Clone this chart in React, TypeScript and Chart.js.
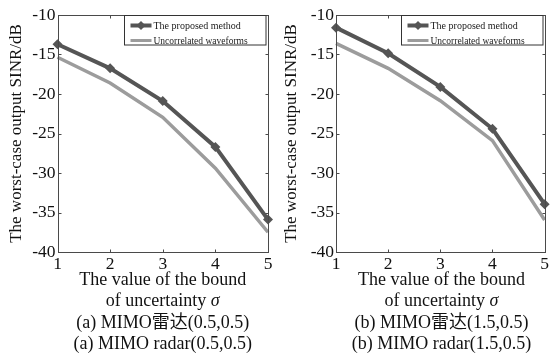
import React, { useEffect, useRef } from "react";
import { Chart, registerables } from "chart.js";

Chart.register(...registerables);

const xValues = [1, 2, 3, 4, 5];
const yTicks = [-40, -35, -30, -25, -20, -15, -10];
const seriesNames = ["The proposed method", "Uncorrelated waveforms"];

const leftProposed = [-13.7, -16.75, -20.9, -26.7, -35.9];
const leftUncorrelated = [-15.35, -18.6, -22.95, -29.4, -37.5];
const rightProposed = [-11.6, -14.85, -19.1, -24.4, -33.95];
const rightUncorrelated = [-13.6, -16.75, -20.85, -25.9, -35.95];

const yTitle = "The worst-case output SINR/dB";
const xTitleLine1 = "The value of the bound";
const xTitleLine2 = "of uncertainty ";
const leftCaptionCn = "(a) MIMO雷达(0.5,0.5)";
const leftCaptionEn = "(a) MIMO radar(0.5,0.5)";
const rightCaptionCn = "(b) MIMO雷达(1.5,0.5)";
const rightCaptionEn = "(b) MIMO radar(1.5,0.5)";

const SERIF = '"Liberation Serif", "Times New Roman", "Noto Sans CJK SC", serif';
const DARK = "#555555";
const LIGHT = "#9c9c9c";
const AXIS = "#4a4a4a";
const CANVAS_H = 280;
const AREA_TOP = 15;
const AREA_BOTTOM = 252;

type PanelProps = {
  left: number;
  width: number;
  areaLeft: number;
  areaRight: number;
  proposed: number[];
  uncorrelated: number[];
  captionCn: string;
  captionEn: string;
};

const framePlugin = {
  id: "frameLegend",
  afterDatasetsDraw(chart: any) {
    const { ctx, chartArea } = chart;
    const xs = chart.scales.x;
    const ys = chart.scales.y;
    const l = Math.round(chartArea.left) + 0.5;
    const r = Math.round(chartArea.right) + 0.5;
    const t = Math.round(chartArea.top) + 0.5;
    const b = Math.round(chartArea.bottom) + 0.5;
    ctx.save();
    ctx.strokeStyle = AXIS;
    ctx.lineWidth = 1;
    ctx.strokeRect(l, t, r - l, b - t);
    ctx.beginPath();
    xValues.forEach((v) => {
      const px = Math.round(xs.getPixelForValue(v)) + 0.5;
      ctx.moveTo(px, b);
      ctx.lineTo(px, b - 3);
      ctx.moveTo(px, t);
      ctx.lineTo(px, t + 3);
    });
    yTicks.forEach((v) => {
      const py = Math.round(ys.getPixelForValue(v)) + 0.5;
      ctx.moveTo(l, py);
      ctx.lineTo(l + 3, py);
      ctx.moveTo(r, py);
      ctx.lineTo(r - 3, py);
    });
    ctx.stroke();

    // legend box
    const w = 141.5;
    const h = 29.5;
    const x0 = Math.round(chartArea.right - 2.5 - w) + 0.5;
    const y0 = t;
    ctx.fillStyle = "#ffffff";
    ctx.fillRect(x0, y0, w, h);
    ctx.strokeStyle = "#333333";
    ctx.strokeRect(x0, y0, w, h);

    const rows = [
      { y: y0 + 10, color: DARK, lw: 4, marker: true, size: 10, label: chart.data.datasets[0].label },
      { y: y0 + 25, color: LIGHT, lw: 3, marker: false, size: 9.5, label: chart.data.datasets[1].label },
    ];
    rows.forEach((row) => {
      ctx.strokeStyle = row.color;
      ctx.lineWidth = row.lw;
      ctx.beginPath();
      ctx.moveTo(x0 + 6, row.y);
      ctx.lineTo(x0 + 27, row.y);
      ctx.stroke();
      if (row.marker) {
        const cx = x0 + 16.5;
        ctx.fillStyle = row.color;
        ctx.beginPath();
        ctx.moveTo(cx, row.y - 4.5);
        ctx.lineTo(cx + 4.5, row.y);
        ctx.lineTo(cx, row.y + 4.5);
        ctx.lineTo(cx - 4.5, row.y);
        ctx.closePath();
        ctx.fill();
      }
      ctx.fillStyle = "#1a1a1a";
      ctx.font = `${row.size}px ${SERIF}`;
      ctx.textAlign = "left";
      ctx.textBaseline = "middle";
      ctx.fillText(row.label, x0 + 29, row.y + 0.5);
    });
    ctx.restore();
  },
};

function Panel(props: PanelProps) {
  const ref = useRef<HTMLCanvasElement | null>(null);
  useEffect(() => {
    if (!ref.current) return;
    const chart = new Chart(ref.current, {
      type: "line",
      data: {
        datasets: [
          {
            label: seriesNames[0],
            data: xValues.map((x, i) => ({ x, y: props.proposed[i] })),
            borderColor: DARK,
            backgroundColor: DARK,
            borderWidth: 4,
            pointStyle: "rectRot",
            pointRadius: 5,
            pointBackgroundColor: DARK,
            pointBorderColor: DARK,
            pointBorderWidth: 0,
            clip: false as any,
          },
          {
            label: seriesNames[1],
            data: xValues.map((x, i) => ({ x, y: props.uncorrelated[i] })),
            borderColor: LIGHT,
            backgroundColor: LIGHT,
            borderWidth: 3.5,
            pointRadius: 0,
            clip: false as any,
          },
        ],
      },
      options: {
        animation: false,
        responsive: false,
        maintainAspectRatio: false,
        events: [],
        layout: {
          padding: { left: 0, top: AREA_TOP, right: props.width - props.areaRight, bottom: 0 },
        },
        plugins: { legend: { display: false }, tooltip: { enabled: false }, title: { display: false } },
        scales: {
          x: {
            type: "linear",
            min: 1,
            max: 5,
            grid: { display: false, drawTicks: false },
            border: { display: false },
            ticks: {
              stepSize: 1,
              padding: 2,
              color: "#111111",
              font: { family: SERIF, size: 17.5 },
              maxRotation: 0,
            },
            afterFit: (scale: any) => {
              scale.height = CANVAS_H - AREA_BOTTOM;
            },
          },
          y: {
            min: -40,
            max: -10,
            grid: { display: false, drawTicks: false },
            border: { display: false },
            ticks: {
              stepSize: 5,
              padding: 2,
              color: "#111111",
              font: { family: SERIF, size: 17.5 },
            },
            title: {
              display: true,
              text: yTitle,
              color: "#111111",
              font: { family: SERIF, size: 17 },
              padding: { top: 6, bottom: 0 },
            },
            afterFit: (scale: any) => {
              scale.width = props.areaLeft;
            },
          },
        },
      },
      plugins: [framePlugin],
    } as any);
    return () => chart.destroy();
  }, []);

  const lineStyle: React.CSSProperties = {
    height: "21.2px",
    lineHeight: "21.2px",
    whiteSpace: "nowrap",
    textAlign: "center",
  };

  return (
    <div style={{ position: "absolute", left: props.left, top: 0, width: props.width, height: 353 }}>
      <canvas ref={ref} width={props.width} height={CANVAS_H} style={{ position: "absolute", left: 0, top: 0, width: props.width, height: CANVAS_H }} />
      <div
        style={{
          position: "absolute",
          left: props.areaLeft - 20,
          width: props.areaRight - props.areaLeft + 40,
          top: 269.3,
          fontFamily: SERIF,
          fontSize: "18px",
          color: "#111111",
        }}
      >
        <div style={lineStyle}>{xTitleLine1}</div>
        <div style={lineStyle}>
          {xTitleLine2}
          <i>σ</i>
        </div>
        <div style={lineStyle}>{props.captionCn}</div>
        <div style={lineStyle}>{props.captionEn}</div>
      </div>
    </div>
  );
}

export default function App() {
  return (
    <div style={{ position: "absolute", left: 0, top: 0, width: 551, height: 353, background: "#ffffff", overflow: "hidden" }}>
      <Panel
        left={0}
        width={275}
        areaLeft={57.5}
        areaRight={268}
        proposed={leftProposed}
        uncorrelated={leftUncorrelated}
        captionCn={leftCaptionCn}
        captionEn={leftCaptionEn}
      />
      <Panel
        left={275}
        width={276}
        areaLeft={61}
        areaRight={272}
        proposed={rightProposed}
        uncorrelated={rightUncorrelated}
        captionCn={rightCaptionCn}
        captionEn={rightCaptionEn}
      />
    </div>
  );
}
